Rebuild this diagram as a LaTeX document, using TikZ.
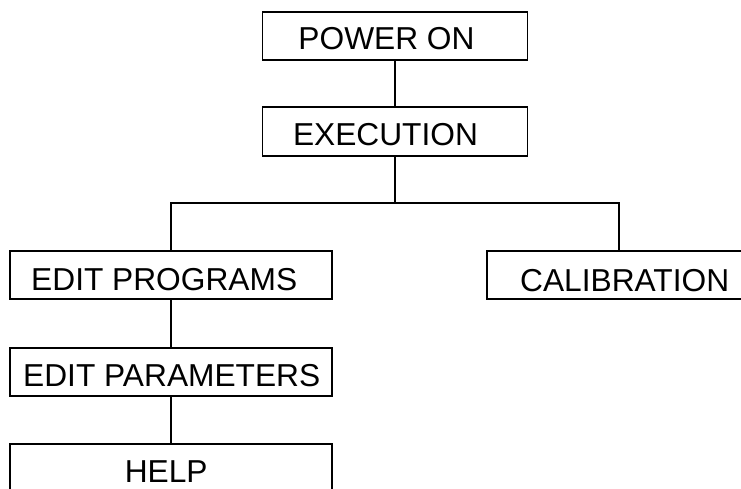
\documentclass[tikz,border=0pt]{standalone}
\usepackage{fontspec}
\setmainfont{Liberation Sans}
\begin{document}
\begin{tikzpicture}[x=1pt,y=-1pt,
  box/.style={draw=black,line width=1.8pt,rectangle,inner sep=0pt,fill=white},
  lbl/.style={anchor=base,inner sep=0pt,font=\fontsize{31.7}{38}\selectfont},
  conn/.style={draw=black,line width=1.8pt}]
\useasboundingbox (0,0) rectangle (741,489);
\clip (0,0) rectangle (741,489);
\fill[white] (0,0) rectangle (741,489);
% boxes
\node[box,minimum width=265pt,minimum height=48.3pt] (power) at (395,35.85) {};
\node[box,minimum width=265pt,minimum height=48.4pt] (exec) at (395,131.5) {};
\node[box,minimum width=322pt,minimum height=48.3pt] (editprog) at (171,275.2) {};
\node[box,minimum width=322pt,minimum height=47.7pt] (editpar) at (171,372.2) {};
\node[box,minimum width=322pt,minimum height=48pt] (help) at (171,468) {};
\node[box,minimum width=265pt,minimum height=48pt] (calib) at (619.3,275) {};
% labels
\node[lbl] (tpower) at (386.5,50) {POWER ON};
\node[lbl] (texec) at (385.5,145.7) {EXECUTION};
\node[lbl] (tprog) at (164.2,290.7) {EDIT PROGRAMS};
\node[lbl] (tpar) at (171.7,386.7) {EDIT PARAMETERS};
\node[lbl] (thelp) at (166.2,482.7) {HELP};
\node[lbl] (tcalib) at (624.7,291.3) {CALIBRATION};
% connectors
\coordinate (bus) at (0,203.3);
\draw[conn] (power.south) -- (exec.north);
\draw[conn] (exec.south) -- (exec.south |- bus);
\draw[conn,line cap=rect] (editprog.north) -- (editprog.north |- bus) -- (calib.north |- bus) -- (calib.north);
\draw[conn] (editprog.south) -- (editpar.north);
\draw[conn] (editpar.south) -- (help.north);
\end{tikzpicture}
\end{document}
